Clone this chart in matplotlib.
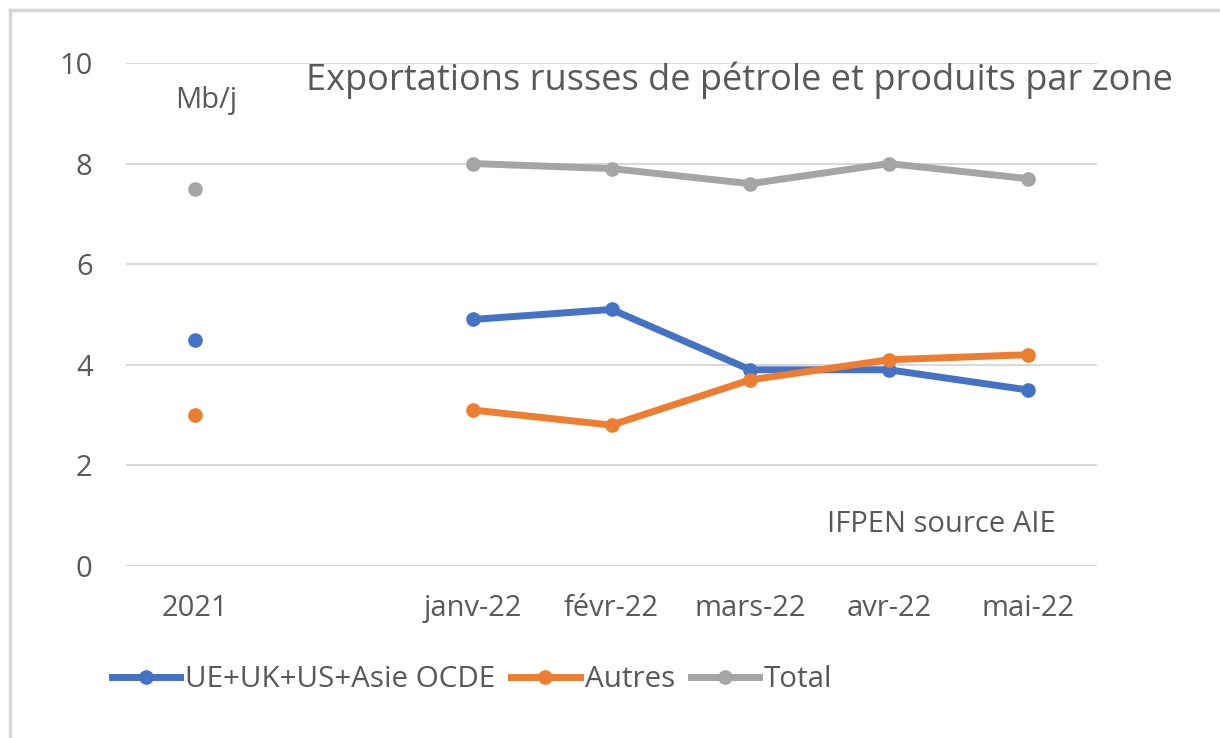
import matplotlib
matplotlib.use("Agg")
import matplotlib.pyplot as plt
import numpy as np

# Categories (second slot is empty in the original Excel chart)
categories = ["2021", "", "janv-22", "févr-22", "mars-22", "avr-22", "mai-22"]

# Exports in Mb/j
ue_uk_us_asie = [4.5, np.nan, 4.9, 5.1, 3.9, 3.9, 3.5]
autres = [3.0, np.nan, 3.1, 2.8, 3.7, 4.1, 4.2]
total = [7.5, np.nan, 8.0, 7.9, 7.6, 8.0, 7.7]

plt.rcParams['font.family'] = ['Open Sans', 'DejaVu Sans']
txt = "#595959"

fig = plt.figure(figsize=(12.2, 7.38), dpi=100)
ax = fig.add_axes([0.1033, 0.2331, 0.7959, 0.6816])

x = np.arange(len(categories))
ax.plot(x, ue_uk_us_asie, color="#4472C4", lw=5, marker='o', ms=9.5, label="UE+UK+US+Asie OCDE", zorder=3)
ax.plot(x, autres, color="#ED7D31", lw=5, marker='o', ms=9.5, label="Autres", zorder=3)
ax.plot(x, total, color="#A5A5A5", lw=5, marker='o', ms=9.5, label="Total", zorder=3)

ax.set_xlim(-0.5, len(categories) - 0.5)
ax.set_ylim(0, 10)
ax.set_yticks([0, 2, 4, 6, 8, 10])
ax.set_xticks(x)
ax.set_xticklabels(categories)
ax.tick_params(axis='both', length=0, labelsize=21, labelcolor=txt)
ax.tick_params(axis='y', pad=24)
ax.tick_params(axis='x', pad=20)
ax.grid(axis='y', color="#D9D9D9", lw=1.5)
ax.set_axisbelow(True)
for s in ax.spines.values():
    s.set_visible(False)

ax.text(0.08, 9.26, "Mb/j", fontsize=21, color=txt, ha='center', va='center')
fig.text(0.606, 0.891, "Exportations russes de pétrole et produits par zone",
         fontsize=26, color=txt, ha='center', va='center')
ax.text(5.38, 0.83, "IFPEN source AIE", fontsize=21, color=txt, ha='center', va='center')

leg = fig.legend(loc='center left', bbox_to_anchor=(0.0918, 0.079), ncol=3, frameon=False,
                 fontsize=21.3, labelcolor=txt, handlelength=2.3, handletextpad=0.17,
                 columnspacing=0.55, borderaxespad=0, borderpad=0)

# light outer frame (top and left edges of the screenshot)
fig.add_artist(plt.Line2D([0.0082, 1.0], [0.9865, 0.9865], color="#D6D6D6", lw=2.5,
                          transform=fig.transFigure))
fig.add_artist(plt.Line2D([0.0082, 0.0082], [0.0, 0.9865], color="#D6D6D6", lw=2.5,
                          transform=fig.transFigure))

fig.savefig("out.png", dpi=100)
